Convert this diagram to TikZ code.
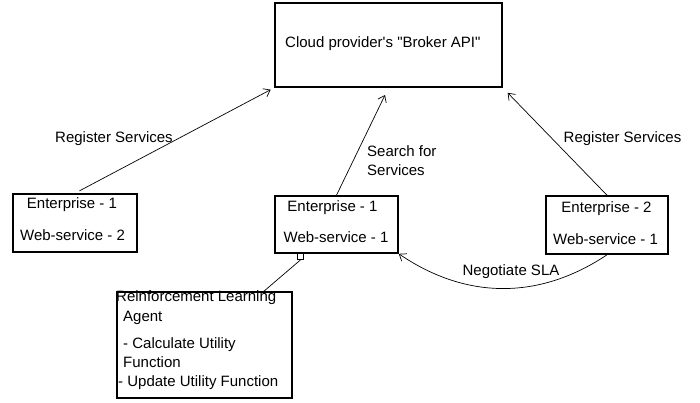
\documentclass[tikz,border=0pt]{standalone}
\usepackage{fontspec}
\setmainfont{Liberation Sans}
\usetikzlibrary{arrows.meta}
\begin{document}
\begin{tikzpicture}[x=1bp,y=-1bp,
  box/.style={draw,line width=1.6bp,minimum width=#1,inner sep=0pt},
  txt/.style={font=\fontsize{15bp}{18bp}\selectfont,inner sep=0pt,anchor=base},
  arr/.style={line width=0.7bp,-{Straight Barb[length=6bp,width=9bp]}},
  con/.style={line width=0.7bp}]
\useasboundingbox (0,0) rectangle (700,402);
% boxes
\node[box=227bp,minimum height=84bp] (top) at (388.5,45) {};
\node[box=124bp,minimum height=58bp] (lb) at (75,223) {};
\node[box=123bp,minimum height=57bp] (mb) at (336.5,224.5) {};
\node[box=122bp,minimum height=58bp] (rb) at (607,225) {};
\node[box=175bp,minimum height=106bp] (rl) at (204.5,345) {};
\node[draw,line width=0.8bp,fill=white,minimum size=6bp,inner sep=0pt] (sq) at (300.5,256.5) {};
% texts
\node[txt,anchor=base west] (ttop) at (285,47) {Cloud provider\textquotesingle s \textquotedbl Broker API\textquotedbl};
\node[txt] (lb1) at (72,208) {Enterprise - 1};
\node[txt] (lb2) at (72.5,240) {Web-service - 2};
\node[txt] (mb1) at (332.5,211) {Enterprise - 1};
\node[txt] (mb2) at (336,242) {Web-service - 1};
\node[txt] (rb1) at (606.5,212) {Enterprise - 2};
\node[txt] (rb2) at (605.5,244) {Web-service - 1};
\node[txt,anchor=base west] (rl1) at (116,301) {Reinforcement Learning};
\node[txt,anchor=base west] (rl2) at (123,321) {Agent};
\node[txt,anchor=base west] (rl3) at (123,348) {- Calculate Utility};
\node[txt,anchor=base west] (rl4) at (123,367) {Function};
\node[txt,anchor=base west] (rl5) at (118,386) {- Update Utility Function};
% connector labels
\node[txt] (reg1) at (114,142) {Register Services};
\node[txt,anchor=base west] (s1) at (367,156) {Search for};
\node[txt,anchor=base west] (s2) at (367,175) {Services};
\node[txt] (reg2) at (622.5,142) {Register Services};
\node[txt] (neg) at (511,275) {Negotiate SLA};
% connectors
\draw[arr,shorten <=5bp,shorten >=4bp] (lb.north) -- (top.south west);
\draw[arr,shorten >=8bp] (mb.north) -- (top.south);
\draw[arr,shorten >=7bp] (rb.north) -- (top.south east);
\draw[arr] (rb.south) to[bend left=34] (mb.south east);
\coordinate (rlt) at (263,292);
\draw[con] (sq.south) -- (rlt);
\end{tikzpicture}
\end{document}
